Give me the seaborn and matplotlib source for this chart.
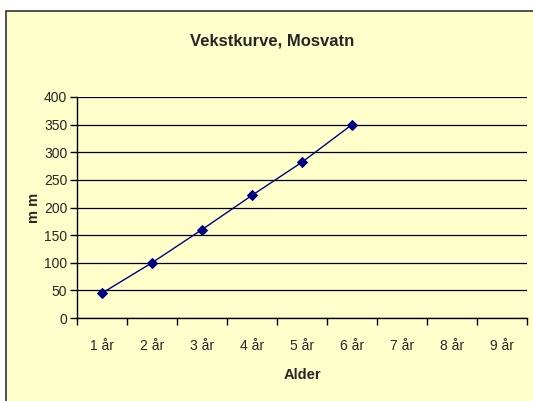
import matplotlib
matplotlib.use("Agg")
import matplotlib.pyplot as plt
import seaborn as sns
import pandas as pd
from matplotlib.patches import Rectangle

categories = ["1 år", "2 år", "3 år", "4 år", "5 år", "6 år", "7 år", "8 år", "9 år"]
values = [45, 100, 160, 222, 282, 350]
yticks = [0, 50, 100, 150, 200, 250, 300, 350, 400]

sns.set_style("white")
plt.rcParams['font.family'] = ['Liberation Sans', 'DejaVu Sans']

bg = "#FFFFCC"
W, H = 533, 401
fig = plt.figure(figsize=(W / 100, H / 100), dpi=100)
fig.patch.set_facecolor("white")
fig.patches.append(Rectangle((6 / W, -0.05), 1.2, 1 - 11 / H + 0.05, transform=fig.transFigure,
                             facecolor=bg, edgecolor="#333333", linewidth=1.2, zorder=-10))

ax = fig.add_axes([77 / W, 1 - 318 / H, (527 - 77) / W, (318 - 97) / H])
ax.set_zorder(5)
ax.set_facecolor(bg)

df = pd.DataFrame({"x": list(range(len(values))), "y": values})
sns.lineplot(data=df, x="x", y="y", ax=ax, color="#000080", marker="D", markersize=5,
             markeredgecolor="#000080", linewidth=1)

ax.set_xlim(-0.5, len(categories) - 0.5)
ax.set_ylim(0, 400)
ax.set_yticks(yticks)
ax.set_yticklabels([str(t) for t in yticks], fontsize=10)
ax.yaxis.grid(True, color="black", linewidth=0.9)
ax.set_axisbelow(True)

ax.set_xticks([i - 0.5 for i in range(len(categories) + 1)])
ax.set_xticklabels([])
ax.set_xticks(list(range(len(categories))), minor=True)
ax.set_xticklabels(categories, minor=True, fontsize=10)
ax.tick_params(axis="x", which="major", direction="out", length=5, width=1, color="black", bottom=True)
ax.tick_params(axis="x", which="minor", length=0, pad=15)
ax.tick_params(axis="y", direction="out", length=5, width=1, color="black", left=True, pad=2)

for s in ["top", "right"]:
    ax.spines[s].set_visible(False)
for s in ["left", "bottom"]:
    ax.spines[s].set_color("black")
    ax.spines[s].set_linewidth(1)

ax.set_xlabel("Alder", fontsize=10.5, fontweight="bold", labelpad=11)
ax.set_ylabel("m m", fontsize=10.5, fontweight="bold", labelpad=2)
fig.text(272 / W, 1 - 41 / H, "Vekstkurve, Mosvatn", ha="center", va="center",
         fontsize=12, fontweight="bold")

fig.savefig("out.png", dpi=100, facecolor=fig.get_facecolor())
